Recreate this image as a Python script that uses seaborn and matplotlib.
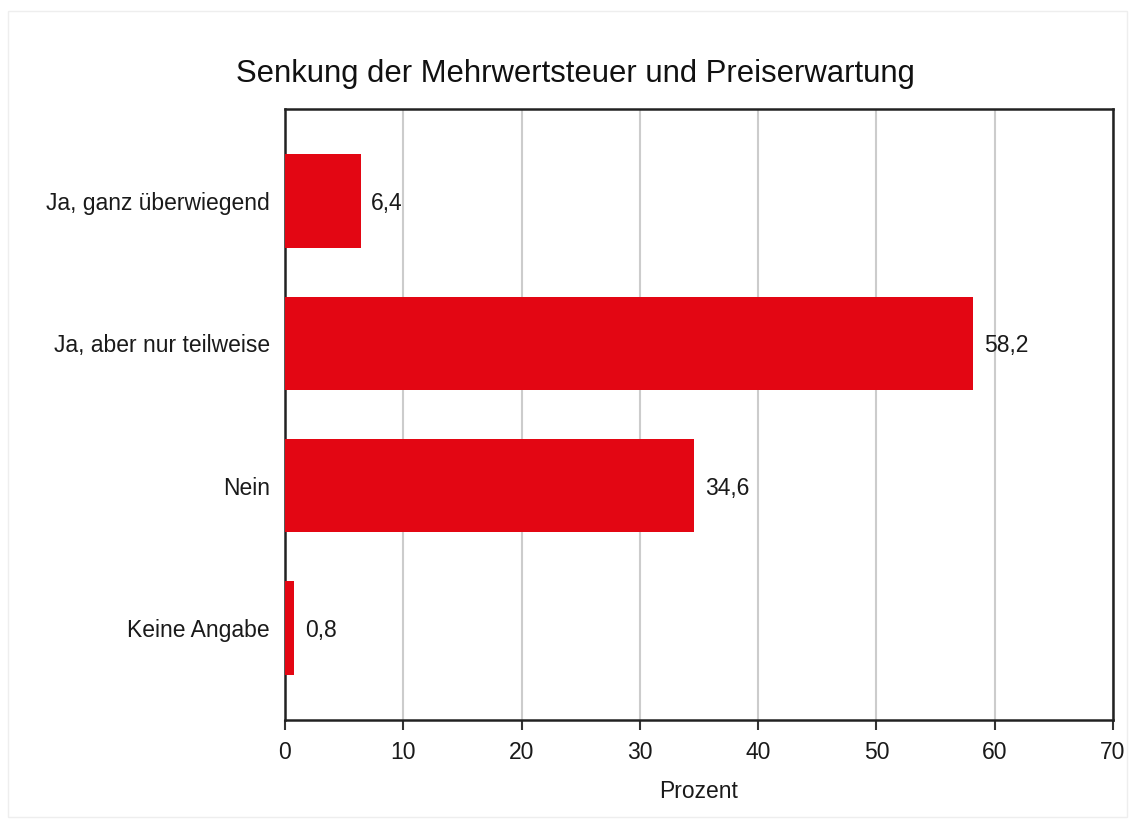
import matplotlib
matplotlib.use("Agg")
import matplotlib.pyplot as plt
import seaborn as sns
import pandas as pd
from matplotlib.patches import Rectangle

categories = ["Ja, ganz überwiegend", "Ja, aber nur teilweise", "Nein", "Keine Angabe"]
values = [6.4, 58.2, 34.6, 0.8]
x_ticks = [0, 10, 20, 30, 40, 50, 60, 70]

df = pd.DataFrame({"Antwort": categories, "Prozent": values})

sns.set_style("white")
plt.rcParams["font.family"] = ["Liberation Sans", "DejaVu Sans"]

fig = plt.figure(figsize=(11.35, 8.27), dpi=100)
ax = fig.add_axes([0.2511, 0.1294, 0.7295, 0.7388])

sns.barplot(data=df, y="Antwort", x="Prozent", orient="h", color="#E30613",
            saturation=1, width=0.66, linewidth=0, ax=ax, zorder=3)

fs = 16.5
ax.set_xlim(0, 70)
ax.set_ylim(3.65, -0.65)
ax.set_xticks(x_ticks)
ax.set_xticklabels([str(t) for t in x_ticks], fontsize=fs, color="#1a1a1a")
ax.set_yticks(range(len(categories)))
ax.set_yticklabels(categories, fontsize=fs, color="#1a1a1a", va="center_baseline")
ax.tick_params(axis="y", length=0, pad=11)
ax.tick_params(axis="x", length=7, width=1.5, color="#333333", pad=8, bottom=True)
ax.set_ylabel("")
ax.set_xlabel("Prozent", fontsize=fs, labelpad=12, color="#1a1a1a")

ax.grid(axis="x", color="#cccccc", linewidth=1.5, zorder=0)
ax.set_axisbelow(True)
for s in ax.spines.values():
    s.set_visible(True)
    s.set_color("#222222")
    s.set_linewidth(1.8)

for i, v in enumerate(values):
    ax.text(v + 0.9, i, f"{v:.1f}".replace(".", ","), va="center_baseline", ha="left",
            fontsize=fs, color="#1a1a1a")

fig.text(0.5068, 0.911, "Senkung der Mehrwertsteuer und Preiserwartung",
         ha="center", va="center", fontsize=22.3, color="#111111")

fig.patches.append(Rectangle((0.007, 0.012), 0.986, 0.975, transform=fig.transFigure,
                             fill=False, edgecolor="#eeeeee", linewidth=1))

fig.savefig("out.png", dpi=100)
